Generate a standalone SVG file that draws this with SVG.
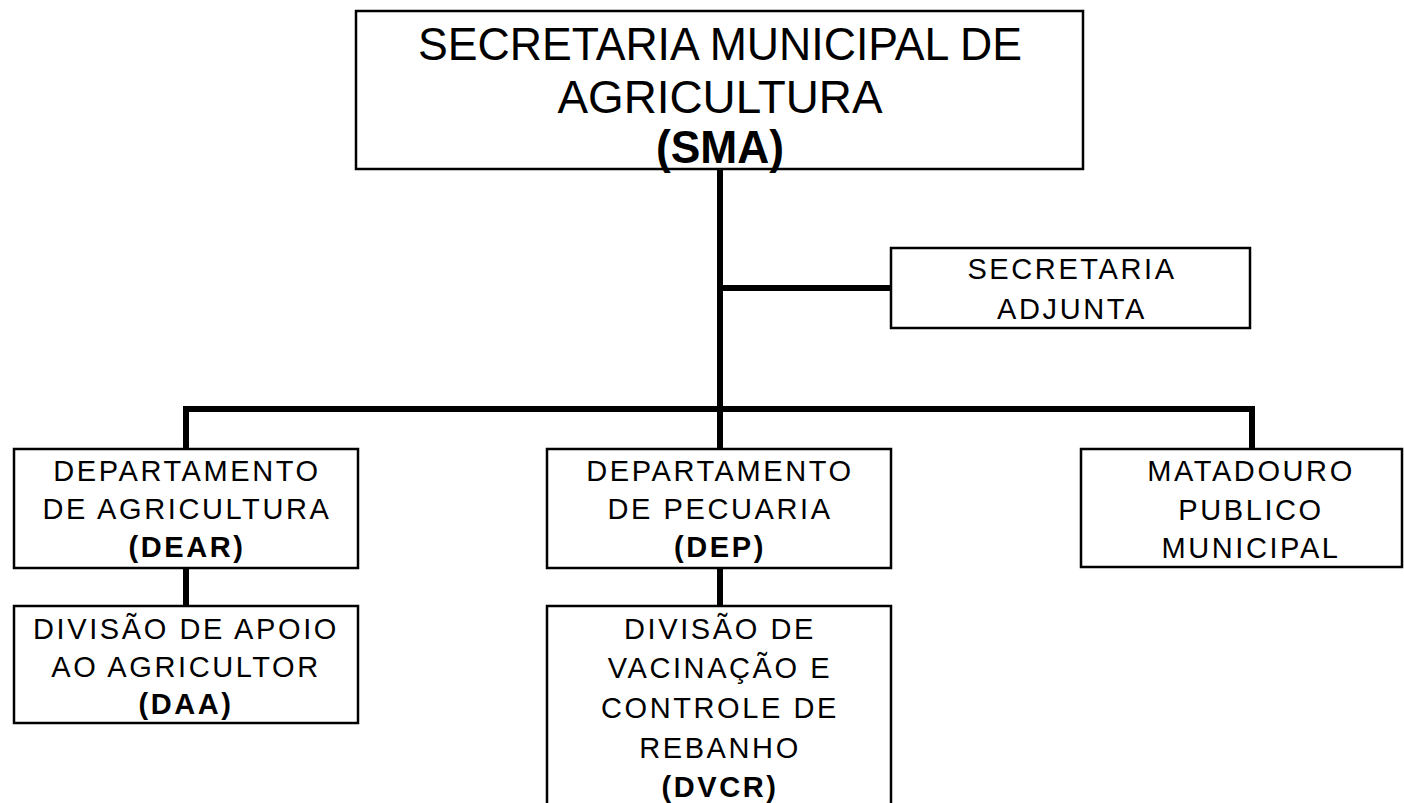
<svg xmlns="http://www.w3.org/2000/svg" width="1404" height="803" viewBox="0 0 1404 803">
<style>
.box{fill:#fff;stroke:#000;stroke-width:2.5}
.t{font-family:"Liberation Sans",Arial,sans-serif;font-size:29px;letter-spacing:2.6px;text-anchor:middle;fill:#000}
.b{font-weight:bold}
.top{font-family:"Liberation Sans",Arial,sans-serif;font-size:46px;text-anchor:middle;fill:#000}
.c{stroke:#000;stroke-width:6;fill:none;stroke-linecap:square}
</style>
<rect width="1404" height="803" fill="#fff"/>
<g id="connectors">
<line class="c" x1="720" y1="170" x2="720" y2="449"/>
<line class="c" x1="720" y1="288" x2="890" y2="288"/>
<line class="c" x1="186" y1="409" x2="1252" y2="409"/>
<line class="c" x1="186" y1="409" x2="186" y2="449"/>
<line class="c" x1="1252" y1="409" x2="1252" y2="449"/>
<line class="c" x1="186" y1="568" x2="186" y2="606"/>
<line class="c" x1="720" y1="568" x2="720" y2="606"/>
</g>
<g id="sma">
<rect class="box" x="356" y="11" width="727" height="158"/>
<text class="top" x="720" y="60" textLength="604" lengthAdjust="spacingAndGlyphs">SECRETARIA MUNICIPAL DE</text>
<text class="top" x="720" y="113" textLength="325" lengthAdjust="spacingAndGlyphs">AGRICULTURA</text>
<text class="top b" x="720" y="163" textLength="128" lengthAdjust="spacingAndGlyphs">(SMA)</text>
</g>
<g id="adjunta">
<rect class="box" x="891" y="248" width="359" height="80"/>
<text class="t" x="1072" y="279">SECRETARIA</text>
<text class="t" x="1072" y="319">ADJUNTA</text>
</g>
<g id="dear">
<rect class="box" x="14" y="449" width="344" height="119"/>
<text class="t" x="187" y="481">DEPARTAMENTO</text>
<text class="t" x="187" y="519">DE AGRICULTURA</text>
<text class="t b" x="187" y="557">(DEAR)</text>
</g>
<g id="dep">
<rect class="box" x="547" y="449" width="344" height="119"/>
<text class="t" x="720" y="481">DEPARTAMENTO</text>
<text class="t" x="720" y="519">DE PECUARIA</text>
<text class="t b" x="720" y="557">(DEP)</text>
</g>
<g id="matadouro">
<rect class="box" x="1081" y="449" width="321" height="118"/>
<text class="t" x="1251" y="481">MATADOURO</text>
<text class="t" x="1251" y="520">PUBLICO</text>
<text class="t" x="1251" y="558">MUNICIPAL</text>
</g>
<g id="daa">
<rect class="box" x="14" y="606" width="344" height="117"/>
<text class="t" x="186" y="639">DIVISÃO DE APOIO</text>
<text class="t" x="186" y="677">AO AGRICULTOR</text>
<text class="t b" x="186" y="714">(DAA)</text>
</g>
<g id="dvcr">
<rect class="box" x="547" y="606" width="344" height="210"/>
<text class="t" x="720" y="639">DIVISÃO DE</text>
<text class="t" x="720" y="678">VACINAÇÃO E</text>
<text class="t" x="720" y="718">CONTROLE DE</text>
<text class="t" x="720" y="758">REBANHO</text>
<text class="t b" x="720" y="797">(DVCR)</text>
</g>
</svg>
